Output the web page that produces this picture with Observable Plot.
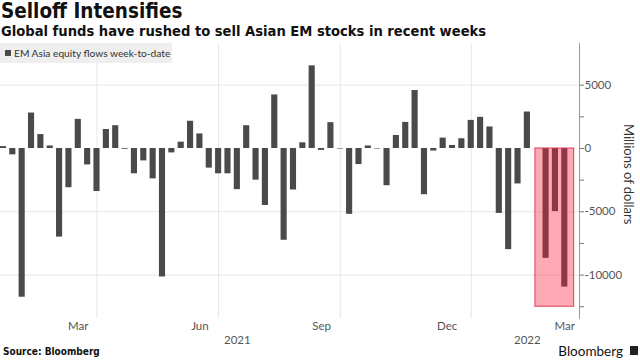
<!DOCTYPE html>
<html><head><meta charset="utf-8">
<script src="https://cdn.jsdelivr.net/npm/d3@7"></script>
<script src="https://cdn.jsdelivr.net/npm/@observablehq/plot@0.6"></script>
<style>
body{margin:0;background:#fff;}
#wrap{position:relative;width:640px;height:360px;overflow:hidden;font-family:Lato,sans-serif;color:#111;}
#title{position:absolute;left:1px;top:-1px;font:bold 20.5px "DejaVu Sans Condensed","DejaVu Sans",sans-serif;white-space:nowrap;}
#subtitle{position:absolute;left:1px;top:22px;font:bold 14.6px "DejaVu Sans Condensed","DejaVu Sans",sans-serif;white-space:nowrap;}
#chart{position:absolute;left:0;top:38px;}
#legend{position:absolute;left:0;top:43px;width:172px;height:20px;background:rgba(236,236,236,0.85);font:10.2px Lato,sans-serif;color:#333;display:flex;align-items:center;white-space:nowrap;}
#legend .sw{display:inline-block;width:6px;height:6px;background:#4a4a4a;margin:0 3px 0 5px;}
#ylabel{position:absolute;left:621px;top:124px;writing-mode:vertical-rl;font:13px Lato,sans-serif;color:#333;white-space:nowrap;}
#source{position:absolute;left:3px;top:346px;font:bold 10px "DejaVu Sans Condensed","DejaVu Sans",sans-serif;}
#brand{position:absolute;right:17px;top:343px;font:13.5px Lato,sans-serif;}
#logo{position:absolute;left:630px;top:346px;width:8px;height:9px;background:#222;}
</style></head>
<body>
<div id="wrap">
  <div id="title">Selloff Intensifies</div>
  <div id="subtitle">Global funds have rushed to sell Asian EM stocks in recent weeks</div>
  <div id="chart"></div>
  <div id="legend"><span class="sw"></span>EM Asia equity flows week-to-date</div>
  <div id="ylabel">Millions of dollars</div>
  <div id="source">Source: Bloomberg</div>
  <div id="brand">Bloomberg</div>
  <div id="logo"></div>
</div>
<script>
// Weekly dates (Fridays)
const weeks = [
 "2021-01-22","2021-01-29","2021-02-05","2021-02-12","2021-02-19","2021-02-26",
 "2021-03-05","2021-03-12","2021-03-19","2021-03-26","2021-04-02","2021-04-09",
 "2021-04-16","2021-04-23","2021-04-30","2021-05-07","2021-05-14","2021-05-21",
 "2021-05-28","2021-06-04","2021-06-11","2021-06-18","2021-06-25","2021-07-02",
 "2021-07-09","2021-07-16","2021-07-23","2021-07-30","2021-08-06","2021-08-13",
 "2021-08-20","2021-08-27","2021-09-03","2021-09-10","2021-09-17","2021-09-24",
 "2021-10-01","2021-10-08","2021-10-15","2021-10-22","2021-10-29","2021-11-05",
 "2021-11-12","2021-11-19","2021-11-26","2021-12-03","2021-12-10","2021-12-17",
 "2021-12-24","2021-12-31","2022-01-07","2022-01-14","2022-01-21","2022-01-28",
 "2022-02-04","2022-02-11","2022-02-18","2022-02-25","2022-03-04","2022-03-11",
 "2022-03-18"
];
// EM Asia equity flows week-to-date, millions of dollars
const flows = [
  150, -500, -11750, 2800, 1100, 200,
  -7000, -3100, 2300, -1300, -3400, 1500,
  1800, -60, -2000, -980, -2400, -10150,
  -350, 500, 2150, 1150, -1550, -2000,
  -2000, -3250, 1800, -2500, -4500, 4230,
  -7250, -3280, 450, 6530, -150, 2040,
  -40, -5200, -1270, 200, -40, -2940,
  1030, 2060, 4580, -3650, -200, 820,
  240, 770, 2220, 2460, 1700, -5130,
  -7990, -2800, 2880, 0, -8680, -4980,
  -10950
];
// Highlighted period
const highlightStart = ["2022-02-24"];
const highlightEnd = ["2022-03-25"];
const highlightLow = [-12500];
// Axis ticks
const yMajorTicks = [5000, 0, -5000, -10000];
const yMinorTicks = [2500, -2500, -7500, -12500];
const yGridTicks = [5000, -5000, -10000];
const xGridDates = ["2021-04-02","2021-07-02","2021-10-01","2022-01-07"];
const monthTickDates = ["2021-03-19","2021-06-18","2021-09-17","2021-12-20","2022-03-18"];
const monthTickLabels = ["Mar","Jun","Sep","Dec","Mar"];
const yearTickDates = ["2021-07-16","2022-02-18"];
const yearTickLabels = ["2021","2022"];
const xDomain = ["2021-01-19T19:00:00Z","2022-03-29T00:00:00Z"];
const yDomain = [-13430, 8294];

const P = s => new Date(s.length > 10 ? s : s + "T00:00:00Z");
const data = weeks.map((w, i) => ({date: P(w), value: flows[i]}));
const hl = highlightStart.map((s, i) => ({x1: P(s), x2: P(highlightEnd[i]), y1: 0, y2: highlightLow[i]}));
const monthMap = new Map(monthTickDates.map((d, i) => [+P(d), monthTickLabels[i]]));
const yearMap = new Map(yearTickDates.map((d, i) => [+P(d), yearTickLabels[i]]));
const halfBar = 55 * 3600 * 1000;

const chart = Plot.plot({
  width: 640,
  height: 310,
  marginLeft: 0,
  marginRight: 61,
  marginTop: 5,
  marginBottom: 30,
  style: {fontFamily: "Lato, sans-serif", fontSize: "11px", color: "#555", background: "transparent"},
  x: {type: "utc", domain: xDomain.map(P)},
  y: {domain: yDomain},
  marks: [
    Plot.ruleY(yGridTicks, {stroke: "#e6e6e6"}),
    Plot.ruleX(xGridDates.map(P), {stroke: "#e6e6e6"}),
    Plot.rectY(data, {
      x1: d => new Date(+d.date - halfBar),
      x2: d => new Date(+d.date + halfBar),
      y1: 0, y2: "value", fill: "#4a4a4a"
    }),
    Plot.rect(hl, {x1: "x1", x2: "x2", y1: "y1", y2: "y2", fill: "#ff1a40", fillOpacity: 0.38, stroke: "#d8405a", strokeWidth: 1}),
    Plot.frame({anchor: "right", stroke: "#9a9a9a"}),
    Plot.axisY(yMajorTicks, {anchor: "right", tickSize: 4, tickPadding: 1, stroke: "#777", fill: "#555", fontSize: 11.5, tickFormat: d => String(d), label: null}),
    Plot.axisY(yMinorTicks, {anchor: "right", tickSize: 4, stroke: "#777", tickFormat: () => "", label: null}),
    Plot.axisX(monthTickDates.map(P), {anchor: "bottom", tickSize: 0, tickPadding: 3, fill: "#555", fontSize: 11.5, tickFormat: d => monthMap.get(+d), label: null}),
    Plot.axisX(yearTickDates.map(P), {anchor: "bottom", tickSize: 0, tickPadding: 17, fill: "#555", fontSize: 11.5, tickFormat: d => yearMap.get(+d), label: null})
  ]
});
document.getElementById("chart").appendChild(chart);
</script>
</body></html>
